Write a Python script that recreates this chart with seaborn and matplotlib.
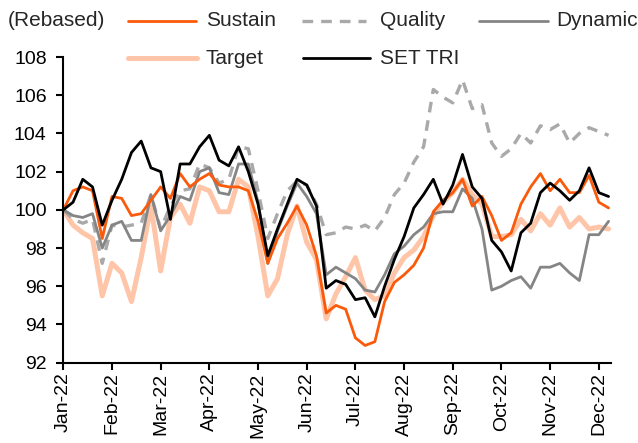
import matplotlib
matplotlib.use("Agg")
import matplotlib.pyplot as plt
import seaborn as sns
import numpy as np
import pandas as pd
from matplotlib.lines import Line2D

# x position in months since Jan-22 (0.2-month steps)
months = ["Jan-22", "Feb-22", "Mar-22", "Apr-22", "May-22", "Jun-22",
          "Jul-22", "Aug-22", "Sep-22", "Oct-22", "Nov-22", "Dec-22"]
t = [round(i * 0.2, 1) for i in range(57)]

set_tri = [100, 100.4, 101.6, 101.2, 99.2, 100.5, 101.6, 103.0, 103.6, 102.2,
           102.0, 99.5, 102.4, 102.4, 103.3, 103.9, 102.6, 102.3, 103.3,
           102.0, 100.3, 97.6, 99.0, 100.3, 101.6, 101.3, 100.2, 95.9, 96.3,
           96.1, 95.3, 95.4, 94.4, 96.0, 97.4, 98.6, 100.1,
           100.8, 101.6, 100.3, 101.3, 102.9, 101.2, 100.6, 98.4, 97.8, 96.8,
           98.8, 99.3, 100.9, 101.4, 101.0, 100.5, 101.0, 102.2, 100.9, 100.7]
sustain = [100, 101.0, 101.2, 101.0, 98.5, 100.7, 100.6, 99.7, 99.8, 100.5,
           101.2, 100.6, 101.9, 101.2, 101.6, 101.9, 101.3, 101.2, 101.2,
           101.0, 99.4, 97.2, 98.5, 99.3, 100.2, 99.2, 97.6, 94.6, 95.0,
           94.8, 93.3, 92.9, 93.1, 95.2, 96.2, 96.6, 97.1,
           98.0, 99.9, 100.5, 100.9, 101.6, 100.2, 100.7, 99.7, 98.4, 98.8,
           100.3, 101.2, 101.9, 101.0, 101.6, 100.9, 100.9, 101.8, 100.4, 100.1]
quality = [100, 99.5, 99.3, 99.5, 97.2, 99.2, 99.1, 99.2, 99.3, 100.8,
           99.0, 100.2, 101.0, 101.1, 102.4, 102.2, 101.4, 101.6, 103.3,
           103.2, 101.0, 98.5, 99.8, 101.0, 101.5, 101.3, 100.3, 98.7, 98.8,
           99.1, 99.0, 99.2, 98.9, 99.6, 100.8, 101.4, 102.5,
           103.3, 106.3, 105.9, 105.6, 106.8, 105.3, 105.5, 103.5, 102.8, 103.2,
           104.0, 103.5, 104.4, 104.2, 104.5, 103.5, 104.0, 104.3, 104.1, 103.9]
dynamic = [100, 99.7, 99.6, 99.8, 98.0, 99.2, 99.4, 98.4, 98.4, 100.8,
           98.9, 99.7, 100.7, 100.5, 102.0, 102.2, 100.9, 100.8, 102.4,
           102.4, 100.4, 97.2, 98.9, 100.2, 101.4, 100.7, 99.8, 96.6, 97.0,
           96.7, 96.4, 95.8, 95.7, 96.6, 97.7, 98.1, 98.7,
           99.1, 99.8, 99.9, 99.9, 101.1, 100.6, 99.0, 95.8, 96.0, 96.3,
           96.5, 95.9, 97.0, 97.0, 97.2, 96.7, 96.3, 98.7, 98.7, 99.4]
target = [100, 99.2, 98.8, 98.5, 95.5, 97.2, 96.7, 95.2, 97.5, 100.2,
          96.8, 99.6, 100.3, 99.3, 101.2, 101.0, 99.9, 99.9, 101.6,
          101.2, 98.6, 95.5, 96.4, 98.7, 100.2, 98.3, 97.4, 94.3, 95.6,
          96.5, 97.5, 95.8, 95.3, 95.5, 96.7, 97.5, 97.9,
          98.6, 99.7, 100.4, 100.9, 101.6, 100.8, 100.3, 98.6, 98.6, 98.7,
          99.5, 98.9, 99.8, 99.2, 100.1, 99.1, 99.6, 99.0, 99.1, 99.0]

df = pd.DataFrame({"t": t, "Sustain": sustain, "Quality": quality,
                   "Dynamic": dynamic, "Target": target, "SET TRI": set_tri})

sns.set_style("ticks")
plt.rcParams["font.family"] = ["Liberation Sans", "DejaVu Sans"]

W, H = 638, 443
fig = plt.figure(figsize=(W / 100, H / 100), dpi=100)
ax = fig.add_axes([63.3 / W, 1 - 362.7 / H, (611 - 63.3) / W, (362.7 - 57) / H])

styles = {
    "Target": dict(color="#FFC5A8", lw=3.6, ls="-"),
    "Quality": dict(color="#A9A9A9", lw=2.4, ls=(0, (3.2, 2.4))),
    "Dynamic": dict(color="#858585", lw=2.0, ls="-"),
    "Sustain": dict(color="#FA5A0A", lw=2.0, ls="-"),
    "SET TRI": dict(color="#000000", lw=2.0, ls="-"),
}
for name in ["Target", "Quality", "Dynamic", "Sustain", "SET TRI"]:
    st = styles[name]
    sns.lineplot(data=df, x="t", y=name, ax=ax, color=st["color"],
                 linewidth=st["lw"], linestyle=st["ls"], legend=False)

ax.set_xlim(0, 11.25)
ax.set_ylim(92, 108)
ax.set_yticks(np.arange(92, 109, 2))
ax.set_xticks(range(len(months)))
ax.set_xticklabels(months, rotation=90)
ax.set_xlabel("")
ax.set_ylabel("")
for s in ["top", "right"]:
    ax.spines[s].set_visible(False)
for s in ["left", "bottom"]:
    ax.spines[s].set_color("black")
    ax.spines[s].set_linewidth(1.5)
ax.tick_params(axis="both", direction="out", length=5, width=1.5, colors="black",
               labelsize=14)
ax.tick_params(axis="y", pad=7)
ax.tick_params(axis="x", pad=2)

# legend laid out as in the reference (pixel positions)
fs = 15
legend_items = [
    ("Sustain", 128, 196, 206, 21),
    ("Quality", 302, 366, 380, 21),
    ("Dynamic", 479, 548, 556, 21),
    ("Target", 128, 197, 206, 58),
    ("SET TRI", 303, 370, 380, 58),
]
for name, x0, x1, xt, yy in legend_items:
    st = styles[name]
    fig.add_artist(Line2D([x0 / W, x1 / W], [1 - yy / H, 1 - yy / H],
                          transform=fig.transFigure, color=st["color"],
                          lw=st["lw"], ls=st["ls"]))
    fig.text(xt / W, 1 - yy / H, name, fontsize=fs, va="center", ha="left")
fig.text(8 / W, 1 - 21 / H, "(Rebased)", fontsize=fs, va="center", ha="left")

fig.savefig("out.png", dpi=100)
